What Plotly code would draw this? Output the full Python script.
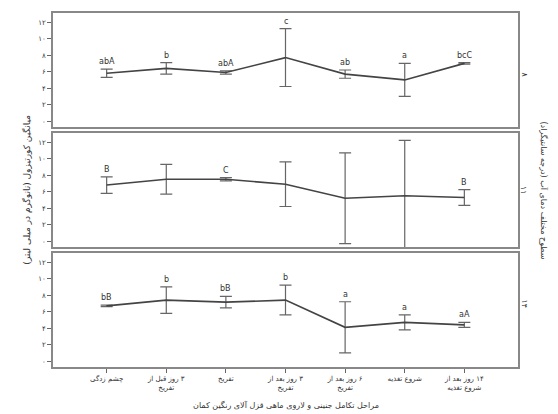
import plotly.graph_objects as go
from plotly.subplots import make_subplots

RLM = "\u200f"
categories = [
    "چشم زدگی",
    RLM + "۳ روز قبل از<br>" + RLM + "تفریخ",
    "تفریخ",
    RLM + "۳ روز بعد از<br>" + RLM + "تفریخ",
    RLM + "۶ روز بعد از<br>" + RLM + "تفریخ",
    "شروع تغذیه",
    RLM + "۱۴ روز بعد از<br>" + RLM + "شروع تغذیه",
]
panel_names = ["۸", "۱۱", "۱۴"]

mean_8 = [5.8, 6.4, 5.9, 7.7, 5.7, 5.0, 7.0]
err_8 = [0.5, 0.7, 0.2, 3.5, 0.5, 2.0, 0.1]
lab_8 = ["abA", "b", "abA", "c", "ab", "a", "bcC"]

mean_11 = [6.8, 7.5, 7.5, 6.9, 5.2, 5.5, 5.3]
err_11 = [1.0, 1.8, 0.2, 2.7, 5.5, 6.7, 0.95]
lab_11 = ["B", "", "C", "", "", "", "B"]

mean_14 = [6.7, 7.4, 7.15, 7.4, 4.1, 4.7, 4.4]
err_14 = [0.1, 1.6, 0.7, 1.8, 3.1, 0.9, 0.3]
lab_14 = ["bB", "b", "bB", "b", "a", "a", "aA"]

tick_vals = [0, 2, 4, 6, 8, 10, 12]
tick_text = ["۰", "۲", "۴", "۶", "۸", "۱۰", "۱۲"]

y_title = "میانگین کورتیزول (نانوگرم در میلی لیتر)"
x_title = "مراحل تکامل جنینی و لاروی ماهی قزل آلای رنگین کمان"
right_title = "سطوح مختلف دمای آب (درجه سانتیگراد)"

FONT = "DejaVu Sans"
xs = list(range(len(categories)))

fig = make_subplots(rows=3, cols=1, shared_xaxes=True, vertical_spacing=0.017)

series = [(mean_8, err_8, lab_8), (mean_11, err_11, lab_11), (mean_14, err_14, lab_14)]
for i, (m, e, labs) in enumerate(series, start=1):
    fig.add_trace(go.Scatter(
        x=xs, y=m, mode="lines",
        line=dict(color="#444444", width=1.6),
        error_y=dict(type="data", array=e, visible=True, color="#666666",
                     thickness=1.2, width=6),
        showlegend=False, hoverinfo="skip"), row=i, col=1)
    yref = "y" if i == 1 else f"y{i}"
    for xi, (mv, ev, lb) in enumerate(zip(m, e, labs)):
        if lb:
            fig.add_annotation(x=xi, y=mv + ev, xref="x", yref=yref, text=lb,
                               showarrow=False, yanchor="bottom", yshift=1,
                               font=dict(family=FONT, size=8, color="#333"))
    fig.update_yaxes(row=i, col=1, range=[-0.7, 13.1], tickvals=tick_vals,
                     ticktext=tick_text, ticks="outside", ticklen=4,
                     tickcolor="#666", showline=True, linecolor="#888",
                     linewidth=1.5, mirror=True, showgrid=False, zeroline=False,
                     tickfont=dict(family=FONT, size=7, color="#333"))
    fig.update_xaxes(row=i, col=1, range=[-0.9, 6.9], tickvals=xs,
                     ticktext=categories, showline=True, linecolor="#888",
                     linewidth=1.5, mirror=True, showgrid=False, zeroline=False,
                     ticks="outside" if i == 3 else "", ticklen=4, tickcolor="#666",
                     tickfont=dict(family=FONT, size=7, color="#333"))
    dom = fig.layout["yaxis" if i == 1 else f"yaxis{i}"].domain
    fig.add_annotation(x=1.027, y=(dom[0] + dom[1]) / 2, xref="paper", yref="paper",
                       text=panel_names[i - 1], showarrow=False, textangle=90,
                       font=dict(family=FONT, size=8, color="#333"))

fig.add_annotation(x=-0.075, y=0.5, xref="paper", yref="paper", text=y_title,
                   showarrow=False, textangle=-90,
                   font=dict(family=FONT, size=9, color="#333"))
fig.add_annotation(x=1.07, y=0.5, xref="paper", yref="paper", text=right_title,
                   showarrow=False, textangle=90,
                   font=dict(family=FONT, size=8, color="#333"))
fig.add_annotation(x=0.5, y=-0.088, xref="paper", yref="paper", text=x_title,
                   showarrow=False, yanchor="top",
                   font=dict(family=FONT, size=8, color="#333"))

fig.update_layout(width=558, height=414, margin=dict(l=53, r=40, t=13, b=47),
                  plot_bgcolor="white", paper_bgcolor="white",
                  font=dict(family=FONT, size=8))
fig.write_html("out.html", config={"displayModeBar": False},
               post_script="document.body.style.margin='0px';")
